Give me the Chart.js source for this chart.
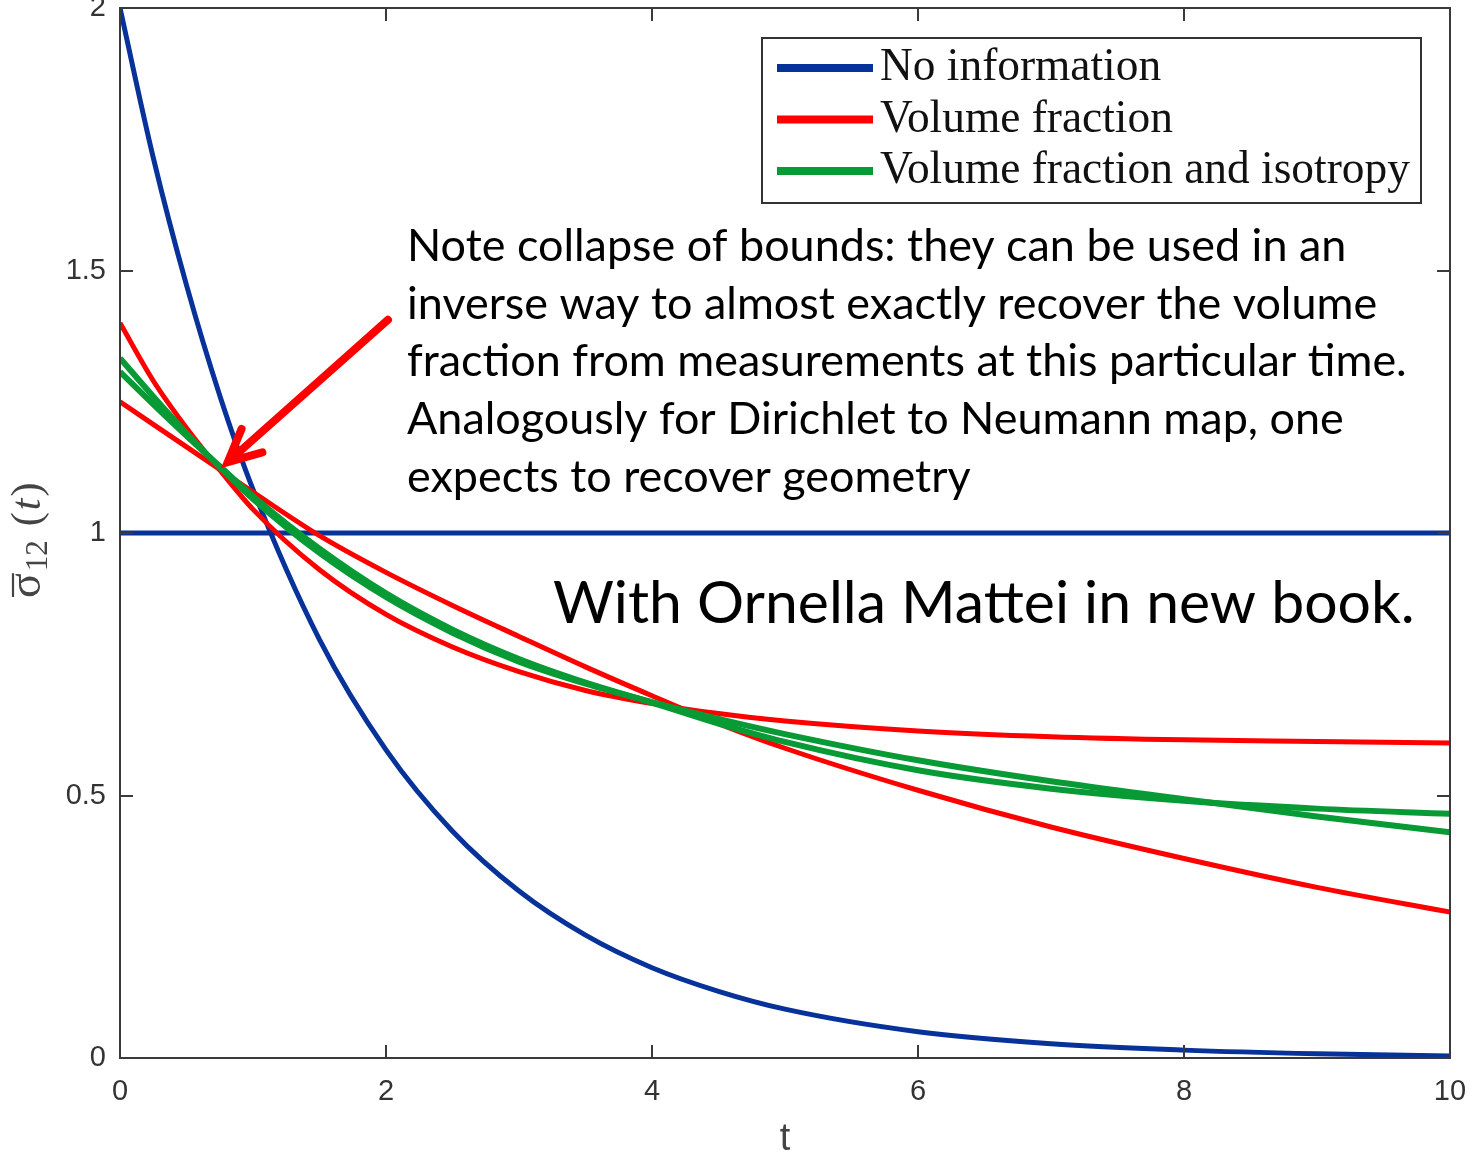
<!DOCTYPE html>
<html>
<head>
<meta charset="utf-8">
<script src="https://cdn.jsdelivr.net/npm/chart.js@4/dist/chart.umd.min.js"></script>
<style>
    html, body { margin: 0; padding: 0; background: #fff; }
</style>
</head>
<body>
<canvas id="boundsChart" width="1468" height="1153"></canvas>
<script>
// time samples (t) and bound values
const tValues = [0, 0.25, 0.5, 0.75, 1, 1.5, 2, 2.5, 3, 3.5, 4, 4.5, 5, 6, 7, 8, 9, 10];

const noInfoUpper = [2.00, 1.715, 1.472, 1.262, 1.083, 0.797, 0.587, 0.432, 0.318, 0.234, 0.172, 0.127, 0.093, 0.050, 0.027, 0.015, 0.008, 0.004];
const noInfoLower = [1, 1, 1, 1, 1, 1, 1, 1, 1, 1, 1, 1, 1, 1, 1, 1, 1, 1];

const volFracA = [1.40, 1.29, 1.20, 1.12, 1.045, 0.93, 0.845, 0.783, 0.736, 0.70, 0.675, 0.656, 0.642, 0.623, 0.612, 0.606, 0.603, 0.60];
const volFracB = [1.25, 1.207, 1.164, 1.121, 1.078, 0.995, 0.925, 0.862, 0.803, 0.745, 0.69, 0.637, 0.59, 0.51, 0.44, 0.38, 0.325, 0.278];

const isoA = [1.333, 1.26, 1.19, 1.125, 1.065, 0.962, 0.878, 0.81, 0.755, 0.713, 0.678, 0.646, 0.617, 0.567, 0.527, 0.493, 0.46, 0.43];
const isoB = [1.307, 1.245, 1.185, 1.127, 1.07, 0.97, 0.885, 0.816, 0.76, 0.715, 0.677, 0.637, 0.602, 0.548, 0.513, 0.49, 0.475, 0.465];

const legendLabels = ["No information", "Volume fraction", "Volume fraction and isotropy"];
const xTickStep = 2;
const yTickStep = 0.5;

const BLUE = "#06329a";
const RED = "#ff0000";
const GREEN = "#079a35";

const noteLines = [
    "Note collapse of bounds: they can be used in an",
    "inverse way to almost exactly recover the volume",
    "fraction from measurements at this particular time.",
    "Analogously for Dirichlet to Neumann map, one",
    "expects to recover geometry"
];
const creditText = "With Ornella Mattei in new book.";

// arrow annotation, in data coordinates
const arrowFrom = { t: 2.015, v: 1.406 };
const arrowTo = { t: 0.81, v: 1.135 };

const toPoints = ys => tValues.map((t, i) => ({ x: t, y: ys[i] }));

function fitSize(ctx, text, family, target) {
    ctx.font = "100px " + family;
    return 100 * target / ctx.measureText(text).width;
}

function noScalePadding(s) {
    s.paddingTop = 0;
    s.paddingBottom = 0;
    s.paddingLeft = 0;
    s.paddingRight = 0;
}

const overlayPlugin = {
    id: "overlay",
    afterDraw(chart) {
        const { ctx, chartArea: a, scales: { x, y } } = chart;
        ctx.save();

        // box + inward ticks (matlab style)
        ctx.strokeStyle = "#3a3a3a";
        ctx.lineWidth = 2;
        ctx.strokeRect(a.left, a.top, a.right - a.left, a.bottom - a.top);
        ctx.beginPath();
        x.ticks.forEach(tk => {
            const px = Math.round(x.getPixelForValue(tk.value));
            ctx.moveTo(px, a.bottom); ctx.lineTo(px, a.bottom - 13);
            ctx.moveTo(px, a.top); ctx.lineTo(px, a.top + 13);
        });
        y.ticks.forEach(tk => {
            const py = Math.round(y.getPixelForValue(tk.value));
            ctx.moveTo(a.left, py); ctx.lineTo(a.left + 13, py);
            ctx.moveTo(a.right, py); ctx.lineTo(a.right - 13, py);
        });
        ctx.stroke();

        // legend
        const lx = 762, ly = 38, lw = 659, lh = 165;
        ctx.fillStyle = "#fff";
        ctx.fillRect(lx, ly, lw, lh);
        ctx.strokeStyle = "#333";
        ctx.strokeRect(lx, ly, lw, lh);
        const legendSets = chart.data.datasets.filter(ds => ds.inLegend);
        const lSize = fitSize(ctx, legendLabels[2], "'Liberation Serif'", 530);
        ctx.font = lSize + "px 'Liberation Serif'";
        ctx.textBaseline = "alphabetic";
        legendSets.forEach((ds, i) => {
            const rowY = 68 + i * 51.5;
            ctx.strokeStyle = ds.borderColor;
            ctx.lineWidth = 8;
            ctx.beginPath();
            ctx.moveTo(777, rowY); ctx.lineTo(873, rowY);
            ctx.stroke();
            ctx.fillStyle = "#111";
            ctx.fillText(ds.label, 880, rowY + 12);
        });

        // arrow
        const x0 = x.getPixelForValue(arrowFrom.t), y0 = y.getPixelForValue(arrowFrom.v);
        const x1 = x.getPixelForValue(arrowTo.t), y1 = y.getPixelForValue(arrowTo.v);
        const back = Math.atan2(y0 - y1, x0 - x1);
        ctx.strokeStyle = RED;
        ctx.lineWidth = 8;
        ctx.lineCap = "round";
        ctx.beginPath();
        ctx.moveTo(x0, y0); ctx.lineTo(x1 + 3 * Math.cos(back), y1 + 3 * Math.sin(back));
        ctx.moveTo(x1 + 36 * Math.cos(back - 0.45), y1 + 36 * Math.sin(back - 0.45));
        ctx.lineTo(x1, y1);
        ctx.lineTo(x1 + 36 * Math.cos(back + 0.45), y1 + 36 * Math.sin(back + 0.45));
        ctx.stroke();

        // note text
        ctx.fillStyle = "#000";
        const nSize = fitSize(ctx, noteLines[2], "Lato", 1000);
        ctx.font = nSize + "px Lato";
        noteLines.forEach((ln, i) => ctx.fillText(ln, 407, 261 + i * 57.7));
        const cSize = fitSize(ctx, creditText, "Lato", 862);
        ctx.font = cSize + "px Lato";
        ctx.fillText(creditText, 553, 623);

        // x axis title
        ctx.fillStyle = "#444";
        ctx.font = "38px 'Liberation Sans'";
        ctx.textAlign = "center";
        ctx.fillText("t", 785, 1150);

        // y axis title: overline sigma_12 (t), rotated
        ctx.translate(40, 598);
        ctx.rotate(-Math.PI / 2);
        ctx.textAlign = "left";
        ctx.font = "46px 'Liberation Serif'";
        const sw = ctx.measureText("σ").width;
        ctx.fillText("σ", 0, 0);
        ctx.lineWidth = 2.2;
        ctx.strokeStyle = "#444";
        ctx.lineCap = "butt";
        ctx.beginPath();
        ctx.moveTo(1, -27); ctx.lineTo(sw, -27);
        ctx.stroke();
        ctx.font = "31px 'Liberation Serif'";
        ctx.fillText("12", sw + 2, 7);
        let cx = sw + 2 + ctx.measureText("12").width + 14;
        ctx.font = "42px 'Liberation Serif'";
        ctx.fillText("(", cx, 0);
        cx += ctx.measureText("(").width + 2;
        ctx.font = "italic 42px 'Liberation Serif'";
        ctx.fillText("t", cx, 0);
        cx += ctx.measureText("t").width + 2;
        ctx.font = "42px 'Liberation Serif'";
        ctx.fillText(")", cx, 0);

        ctx.restore();
    }
};

const lineStyle = (color, width, order) => ({
    borderColor: color,
    backgroundColor: color,
    borderWidth: width,
    pointRadius: 0,
    fill: false,
    cubicInterpolationMode: "monotone",
    order: order
});

const tickFont = { family: "'Liberation Sans', Arial, sans-serif", size: 29 };

new Chart(document.getElementById("boundsChart"), {
    type: "line",
    data: {
        datasets: [
            { label: legendLabels[0], data: toPoints(noInfoUpper), inLegend: true, ...lineStyle(BLUE, 5, 3) },
            { label: legendLabels[0], data: toPoints(noInfoLower), ...lineStyle(BLUE, 5, 3) },
            { label: legendLabels[1], data: toPoints(volFracA), inLegend: true, ...lineStyle(RED, 5, 2) },
            { label: legendLabels[1], data: toPoints(volFracB), ...lineStyle(RED, 5, 2) },
            { label: legendLabels[2], data: toPoints(isoA), inLegend: true, ...lineStyle(GREEN, 6, 1) },
            { label: legendLabels[2], data: toPoints(isoB), ...lineStyle(GREEN, 6, 1) }
        ]
    },
    options: {
        responsive: false,
        animation: false,
        layout: {
            autoPadding: false,
            padding: { left: 0, right: 18, top: 8, bottom: 0 }
        },
        plugins: {
            legend: { display: false },
            tooltip: { enabled: false }
        },
        scales: {
            x: {
                type: "linear",
                min: 0,
                max: 10,
                ticks: { stepSize: xTickStep, padding: 17, color: "#333", font: tickFont, maxRotation: 0, callback: v => String(v) },
                grid: { display: false, drawTicks: false },
                border: { display: false },
                afterFit: s => { s.height = 95; noScalePadding(s); }
            },
            y: {
                min: 0,
                max: 2,
                ticks: { stepSize: yTickStep, padding: 14, color: "#333", font: tickFont, callback: v => String(v) },
                grid: { display: false, drawTicks: false },
                border: { display: false },
                afterFit: s => { s.width = 120; noScalePadding(s); }
            }
        }
    },
    plugins: [overlayPlugin]
});
</script>
</body>
</html>
